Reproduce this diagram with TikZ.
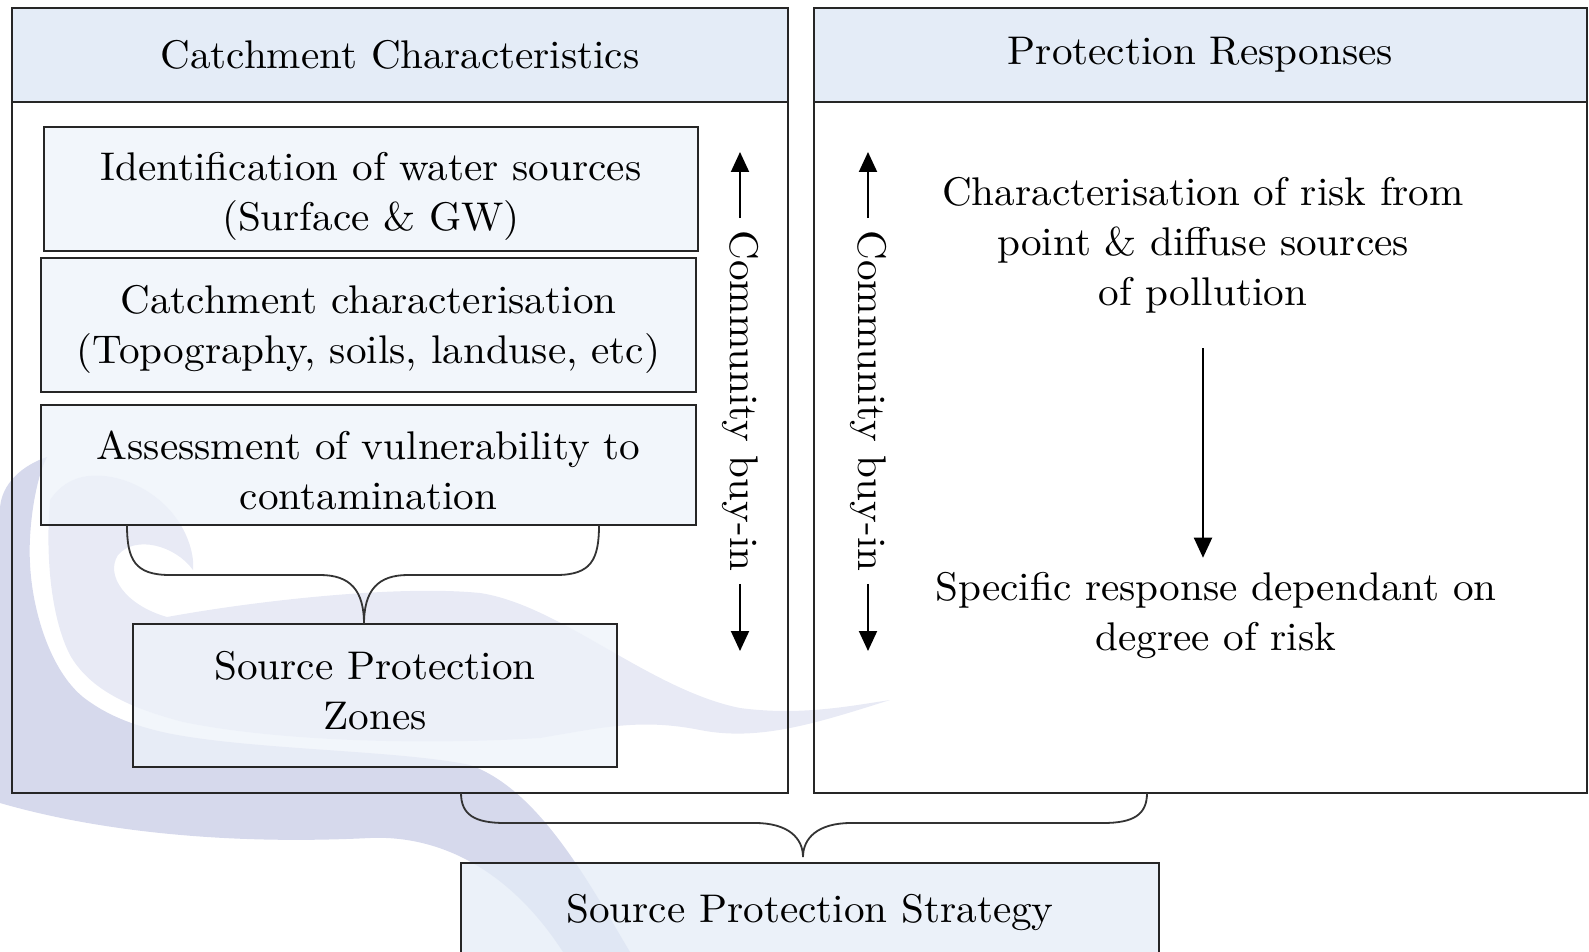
\documentclass[tikz,border=0pt]{standalone}
\usepackage{fontspec}
\setmainfont{lmroman10-regular.otf}[FakeStretch = 1.03]
\usetikzlibrary{arrows.meta}

\definecolor{headblue}{RGB}{228,236,247}
\definecolor{stepblue}{RGB}{238,243,250}
\definecolor{wmdark}{RGB}{214,217,236}
\definecolor{wmlight}{RGB}{232,234,245}

\begin{document}
\begin{tikzpicture}[x=0.5pt, y=-0.5pt, font=\fontsize{20pt}{25pt}\selectfont]
        \tikzstyle{panel_box} = [shape = rectangle, draw = black!85, line width = 1.1pt, minimum height = 392.5pt]
        \tikzstyle{head_box} = [shape = rectangle, draw = black!85, line width = 1.1pt, fill = headblue, minimum height = 47pt]
        \tikzstyle{step_box} = [shape = rectangle, draw = black!85, line width = 1pt, fill = stepblue, fill opacity = 0.75]
        \tikzstyle{plain_text} = [align = center]
        \tikzstyle{buy_in} = [rotate = -90, inner sep = 6pt]
        \tikzstyle{brace_line} = [draw = black!80, line width = 0.9pt]
        \tikzstyle{arr} = [-{Triangle[length = 10pt, width = 9pt]}, line width = 1pt]

        \useasboundingbox (0,0) rectangle (1589,952);
        \clip (0,0) rectangle (1589,952);

        % watermark wave
        \fill[wmlight] (50,500) .. controls (65,478) and (85,474) .. (105,476)
          .. controls (140,480) and (175,505) .. (188,540)
          .. controls (192,550) and (194,562) .. (193,570)
          .. controls (175,545) and (135,535) .. (118,555)
          .. controls (105,575) and (125,605) .. (167,617)
          .. controls (260,600) and (400,585) .. (480,593)
          .. controls (560,605) and (650,690) .. (740,708)
          .. controls (800,716) and (850,706) .. (890,700)
          .. controls (820,722) and (760,742) .. (700,730)
          .. controls (640,718) and (600,728) .. (540,738)
          .. controls (430,745) and (280,742) .. (183,722)
          .. controls (130,708) and (90,690) .. (70,655)
          .. controls (52,620) and (45,560) .. (50,500) -- cycle;
        \fill[wmdark] (47,457) .. controls (15,468) and (0,490) .. (0,510)
          -- (0,803) .. controls (100,832) and (230,845) .. (370,838)
          .. controls (440,835) and (510,870) .. (563,952) -- (630,952)
          .. controls (590,885) and (540,790) .. (470,765)
          .. controls (400,750) and (250,750) .. (167,733)
          .. controls (140,727) and (110,718) .. (83,697)
          .. controls (50,670) and (32,610) .. (30,563)
          .. controls (28,530) and (35,480) .. (47,457) -- cycle;

        \node[panel_box, minimum width = 388pt] at (400, 400.5) (catch_panel) {};

        \node[head_box, minimum width = 388pt] at (400, 55) (catch_head) {Catchment Characteristics};

        \node[panel_box, minimum width = 386.5pt] at (1200.5, 400.5) (prot_panel) {};

        \node[head_box, minimum width = 386.5pt] at (1200.5, 55) (prot_head) {Protection Responses};

        \node[step_box, minimum width = 327pt, minimum height = 62pt] at (371, 189) (ident) {};
        \node[plain_text] at (371, 196.5) (ident_text) {Identification of water sources\\(Surface \& GW)};

        \node[step_box, minimum width = 327.5pt, minimum height = 67pt] at (368.5, 325) (charac) {};
        \node[plain_text] at (368.5, 329) (charac_text) {Catchment characterisation\\(Topography, soils, landuse, etc)};

        \node[step_box, minimum width = 327.5pt, minimum height = 60pt] at (368.5, 465) (assess) {};
        \node[plain_text] at (368.5, 470.5) (assess_text) {Assessment of vulnerability to\\contamination};

        \node[step_box, minimum width = 242pt, minimum height = 71.5pt] at (375, 695.5) (zones) {};
        \node[plain_text] at (375, 691) (zones_text) {Source Protection\\Zones};

        \node[step_box, fill = headblue, minimum width = 349pt, minimum height = 50pt] at (810, 913) (strategy) {};
        \node[plain_text] at (810, 913) (strategy_text) {Source Protection Strategy};

        \node[plain_text] at (1203, 245) (risk) {Characterisation of risk from\\point \& diffuse sources\\of pollution};

        \node[plain_text] at (1216, 616) (spec) {Specific response dependant on\\degree of risk};

        \node[buy_in] at (740, 401) (buyin_l) {Community buy-in};

        \node[buy_in] at (868, 401) (buyin_r) {Community buy-in};

        \coordinate (buyin_l_top) at (740, 152);
        \coordinate (buyin_l_bot) at (740, 651);
        \coordinate (buyin_r_top) at (868, 152);
        \coordinate (buyin_r_bot) at (868, 651);

        \coordinate (bl_left) at (127, 525);
        \coordinate (bl_right) at (599, 525);
        \coordinate (bl_tip) at (364, 624);

        \coordinate (bb_left) at (461, 793);
        \coordinate (bb_right) at (1147, 793);
        \coordinate (bb_tip) at (803, 857);

        \draw[arr] (buyin_l.west) -- (buyin_l_top);
        \draw[arr] (buyin_l.east) -- (buyin_l_bot);
        \draw[arr] (buyin_r.west) -- (buyin_r_top);
        \draw[arr] (buyin_r.east) -- (buyin_r_bot);

        \draw[arr, shorten <= 14pt, shorten >= 4pt] (risk.south) -- (risk.south |- spec.north);

        % braces
        \draw[brace_line]
          (bl_left) .. controls (127, 560) and (135, 575) .. (170, 575) -- (320, 575)
            .. controls (350, 575) and (364, 590) .. (bl_tip)
          (bl_right) .. controls (599, 560) and (591, 575) .. (556, 575) -- (408, 575)
            .. controls (378, 575) and (364, 590) .. (bl_tip)
          (bb_left) .. controls (461, 815) and (475, 823) .. (505, 823) -- (755, 823)
            .. controls (788, 823) and (803, 838) .. (bb_tip)
          (bb_right) .. controls (1147, 815) and (1133, 823) .. (1103, 823) -- (851, 823)
            .. controls (818, 823) and (803, 838) .. (bb_tip)
        ;
      \end{tikzpicture}
\end{document}
